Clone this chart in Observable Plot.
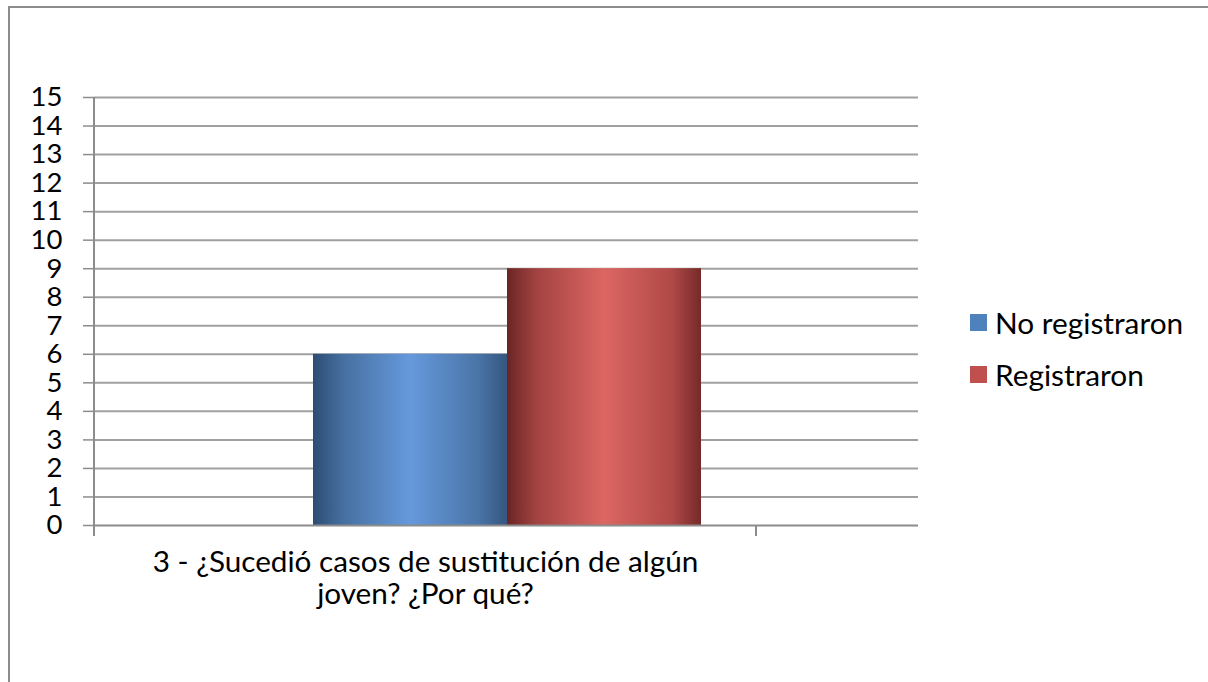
<!DOCTYPE html>
<html><head><meta charset="utf-8">
<script src="https://cdn.jsdelivr.net/npm/d3@7"></script>
<script src="https://cdn.jsdelivr.net/npm/@observablehq/plot@0.6"></script>
<style>
body{margin:0;background:#fff;}
#wrap{position:relative;width:1208px;height:682px;overflow:hidden;font-family:Lato,"Liberation Sans",Arial,sans-serif;}
#border{position:absolute;left:8px;top:6px;width:1300px;height:800px;border-left:2px solid #8c8c8c;border-top:2px solid #8c8c8c;box-sizing:border-box;}
#chart{position:absolute;left:0;top:0;}
#legend{position:absolute;left:970px;top:296px;font-size:29.8px;color:#000;}
.item{display:flex;align-items:center;height:52px;}
.sw{width:17px;height:17px;margin-right:8px;}
</style></head><body>
<div id="wrap"><div id="border"></div><div id="chart"></div><div id="legend"></div></div>
<script>
const categoryLines = ["3 - ¿Sucedió casos de sustitución de algún", "joven? ¿Por qué?"];
const series = ["No registraron", "Registraron"];
const values = [6, 9];
const yTicks = [0,1,2,3,4,5,6,7,8,9,10,11,12,13,14,15];
const swatchColors = ["#4f81bd", "#c0504d"];

const data = series.map((s, i) => ({series: s, value: values[i], idx: i}));
const FONT = 'Lato, "Liberation Sans", Arial, sans-serif';

const plot = Plot.plot({
  width: 1208, height: 682,
  marginLeft: 94, marginRight: 290, marginTop: 97, marginBottom: 157,
  style: {fontFamily: FONT, fontSize: "28px", color: "#000", background: "transparent"},
  x: {domain: series, range: [313, 701], padding: 0, axis: null},
  y: {domain: [0, 15], axis: null},
  marks: [
    Plot.ruleY(yTicks.filter(d => d > 0), {stroke: "#a0a0a0", strokeWidth: 2}),
    Plot.barY(data, {x: "series", y: "value", fill: d => `url(#grad${d.idx})`}),
    Plot.ruleY([0], {stroke: "#8c8c8c", strokeWidth: 2}),
    Plot.axisY(yTicks, {label: null, tickSize: 11, tickPadding: 21, fontSize: 27.5, stroke: "#8c8c8c", strokeWidth: 1.5, fill: "#000"}),
    Plot.text([categoryLines.join("\n")], {frameAnchor: "bottom", dx: -81, dy: 24, lineAnchor: "top", lineHeight: 1.08, fontSize: 29.7, fill: "#000"})
  ]
});

const svg = d3.select(plot);
const defs = svg.insert("defs", ":first-child");
const gradStops = [
  [["0%", "#2c4c74"], ["15%", "#456f9f"], ["50%", "#6699dc"], ["85%", "#4a75a8"], ["100%", "#35567f"]],
  [["0%", "#6a2524"], ["15%", "#a24341"], ["50%", "#dc6662"], ["85%", "#b04947"], ["100%", "#742a29"]]
];
gradStops.forEach((stops, i) => {
  const g = defs.append("linearGradient").attr("id", "grad" + i).attr("x1", "0").attr("x2", "1").attr("y1", "0").attr("y2", "0");
  stops.forEach(([o, c]) => g.append("stop").attr("offset", o).attr("stop-color", c));
});

const ys = plot.scale("y");
const y0 = ys.apply(0), y15 = ys.apply(15);
const axisG = svg.append("g").attr("stroke", "#8c8c8c").attr("stroke-width", 2);
axisG.append("line").attr("x1", 94).attr("x2", 94).attr("y1", y15).attr("y2", y0 + 11);
axisG.append("line").attr("x1", 756).attr("x2", 756).attr("y1", y0).attr("y2", y0 + 11);

document.getElementById("chart").appendChild(plot);

const legend = d3.select("#legend");
series.forEach((s, i) => {
  const it = legend.append("div").attr("class", "item");
  it.append("div").attr("class", "sw").style("background", swatchColors[i]);
  it.append("span").text(s);
});
</script>
</body></html>
